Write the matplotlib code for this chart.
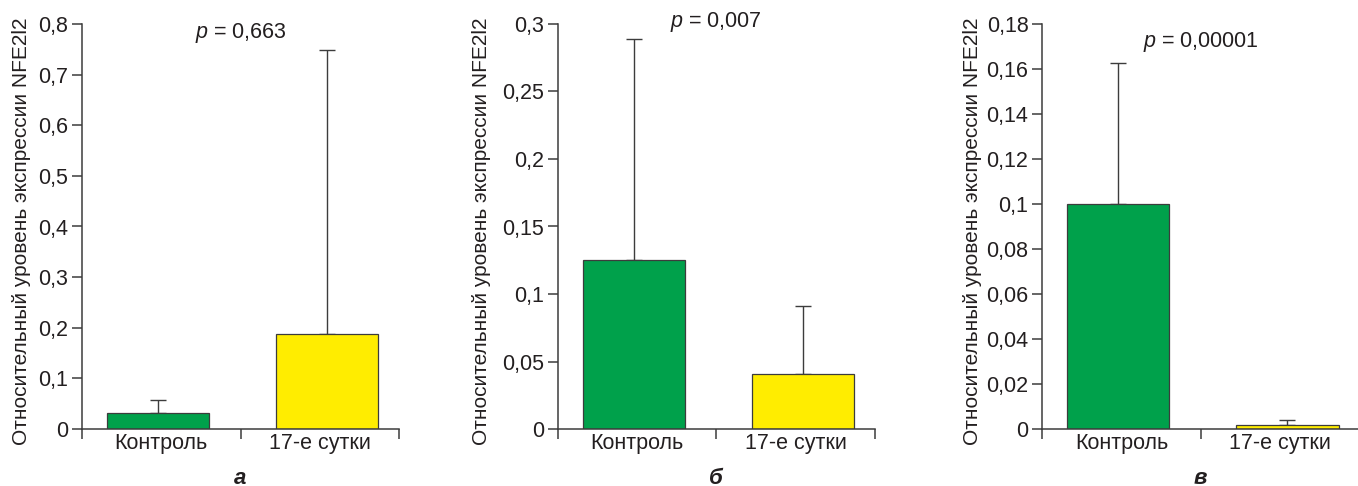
import matplotlib
matplotlib.use("Agg")
import matplotlib.pyplot as plt
from matplotlib.ticker import FixedLocator, NullFormatter

plt.rcParams["font.family"] = ["Liberation Sans", "DejaVu Sans"]
plt.rcParams["mathtext.fontset"] = "custom"
plt.rcParams["mathtext.rm"] = "Liberation Sans"
plt.rcParams["mathtext.it"] = "Liberation Sans:italic"

# Données
groupes = ["Контроль", "17-е сутки"]
couleurs = ["#00a14b", "#ffed00"]

moy_a = [0.031, 0.187]
err_a = [0.027, 0.561]
moy_b = [0.125, 0.041]
err_b = [0.164, 0.050]
moy_v = [0.100, 0.0017]
err_v = [0.0625, 0.0023]

ticks_a = [0, 0.1, 0.2, 0.3, 0.4, 0.5, 0.6, 0.7, 0.8]
ticks_b = [0, 0.05, 0.1, 0.15, 0.2, 0.25, 0.3]
ticks_v = [0, 0.02, 0.04, 0.06, 0.08, 0.1, 0.12, 0.14, 0.16, 0.18]

p_vals = ["0,663", "0,007", "0,00001"]
lettres = ["а", "б", "в"]
ylabel = "Относительный уровень экспрессии NFE2l2"

GRIS = "#3c3c3c"
TEXTE = "#231f20"
FS = 15.5

W, H = 1358, 486
fig = plt.figure(figsize=(W / 100, H / 100), dpi=100)

# positions des axes en pixels (gauche, y du texte p, ancre x du label y)
panneaux = [
    (82, moy_a, err_a, ticks_a, 33, 31.4),
    (557.7, moy_b, err_b, ticks_b, 22, 491.4),
    (1042.3, moy_v, err_v, ticks_v, 42, 982.4),
]

for i, (x0, moy, err, ticks, y_p, x_lab) in enumerate(panneaux):
    ax = fig.add_axes([x0 / W, 1 - 429 / H, 317 / W, 405 / H])
    pos_barres = [-0.02, 1.047]   # les barres sont un peu décalées par rapport aux libellés
    ax.bar(pos_barres, moy, width=0.644, color=couleurs, edgecolor=GRIS, linewidth=0.9, zorder=2)
    ax.errorbar(pos_barres, moy, yerr=[[0, 0], err], fmt="none", ecolor=GRIS,
                elinewidth=1.0, capsize=5.5, capthick=1.0, zorder=1)

    ax.set_xlim(-0.5, 1.5)
    ax.set_ylim(0, ticks[-1])
    ax.set_yticks(ticks)
    ax.set_yticklabels([("%g" % t).replace(".", ",") for t in ticks])

    # étiquettes des groupes centrées, tirets aux limites des catégories
    ax.set_xticks([0, 1])
    ax.set_xticklabels(groupes)
    ax.tick_params(axis="x", which="major", length=0, pad=3)
    ax.xaxis.set_minor_locator(FixedLocator([-0.5, 0.5, 1.5]))
    ax.xaxis.set_minor_formatter(NullFormatter())
    ax.tick_params(axis="x", which="minor", length=7, width=1.1, color=GRIS)
    ax.tick_params(axis="y", length=7, width=1.1, color=GRIS, pad=3)
    ax.tick_params(labelsize=FS, labelcolor=TEXTE)

    for s in ["top", "right"]:
        ax.spines[s].set_visible(False)
    for s in ["left", "bottom"]:
        ax.spines[s].set_color(GRIS)
        ax.spines[s].set_linewidth(1.1)
    ax.spines["bottom"].set_zorder(3)

    ax.set_ylabel(ylabel, fontsize=15, color=TEXTE)
    ax.yaxis.set_label_coords(-(x0 - x_lab) / 317, 0.489)

    fig.text((x0 + 317 / 2) / W, 1 - y_p / H, f"$\\it{{p}}$ = {p_vals[i]}",
             ha="center", va="center", fontsize=FS, color=TEXTE)
    fig.text((x0 + 317 / 2) / W, 1 - 478 / H, lettres[i], ha="center", va="center",
             fontsize=16, fontweight="bold", fontstyle="italic", color=TEXTE)

fig.savefig("out.png", dpi=100)
